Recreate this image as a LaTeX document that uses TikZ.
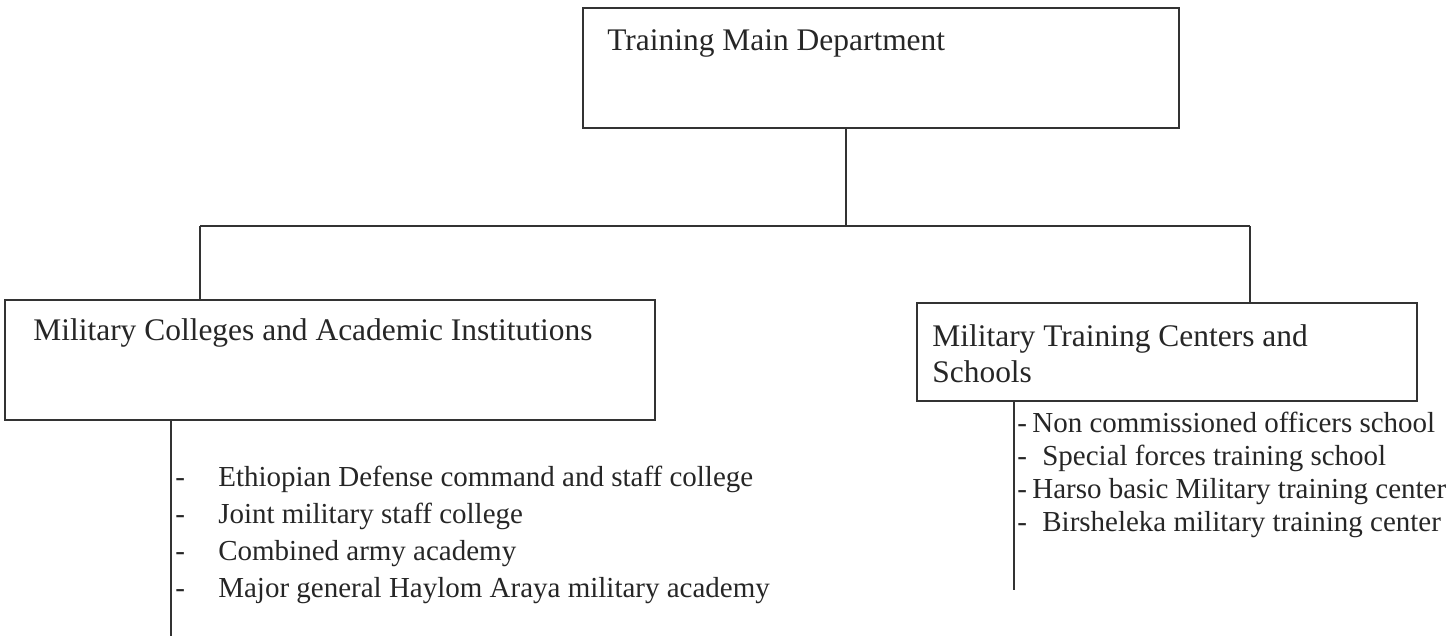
\documentclass[tikz,border=0pt]{standalone}
\usepackage{fontspec}
\setmainfont{Liberation Serif}
\usetikzlibrary{positioning}

\tikzset{
  boxtitle/.style={anchor=base west, inner sep=0pt, text=black!85,
                   font=\fontsize{17.9}{21}\selectfont},
  listitem/.style={anchor=base west, inner sep=0pt, text=black!85,
                   font=\fontsize{16.5}{20}\selectfont}
}

\begin{document}
\begin{tikzpicture}
\useasboundingbox (0,0) rectangle (29,-12.72);

% the three boxes
\begin{scope}[every node/.style={draw=black!80, line width=1pt, inner sep=0pt,
                                 minimum height=2.4cm}]
  \node[minimum width=11.92cm] (dept) at (17.62, -1.36) {};
  \node[minimum width=13cm] (colleges) at (6.6, -7.2) {};
  \node[minimum width=10cm, minimum height=1.96cm] (centers) at (23.34, -7.04) {};
\end{scope}

\begin{scope}[every node/.style={boxtitle}]
  \node (deptname) at (12.14, -1.0) {Training Main Department};
  \node (collegesname) at (0.66, -6.8) {Military Colleges and Academic Institutions};
  \node (centersname) at (18.64, -6.92) {Military Training Centers and};
  \node (centersname2) at (18.64, -7.64) {Schools};
\end{scope}

% lists under the two branches
\foreach \name [count=\i] in {Ethiopian Defense command and staff college,
                              Joint military staff college,
                              Combined army academy,
                              Major general Haylom Araya military academy}
  \node[listitem] (college\i) at (3.5, {-9.72-0.74*(\i-1)})
       {\makebox[0.86cm][l]{-}\name};

\foreach \gap/\name [count=\i] in {0.3cm/Non commissioned officers school,
                                   0.5cm/Special forces training school,
                                   0.3cm/Harso basic Military training center,
                                   0.5cm/Birsheleka military training center}
  \node[listitem] (center\i) at (20.34, {-8.64-0.66*(\i-1)})
       {\makebox[\gap][l]{-}\name};

\coordinate (bus) at (16.92, -4.52);
\coordinate (busleft) at (4, -4.52);
\coordinate (busright) at (25, -4.52);
\coordinate (collegesend) at (3.42, -12.72);
\coordinate (centersend) at (20.28, -11.8);

\begin{scope}[every edge/.style={draw=black!80, line width=1pt}]
  \path (dept.south -| bus) edge (bus);
  \path (busleft) edge (busright);
  \path (busleft) edge (colleges.north -| busleft);
  \path (busright) edge (centers.north -| busright);
  \path (colleges.south -| collegesend) edge (collegesend);
  \path (centers.south -| centersend) edge (centersend);
\end{scope}
\end{tikzpicture}
\end{document}
